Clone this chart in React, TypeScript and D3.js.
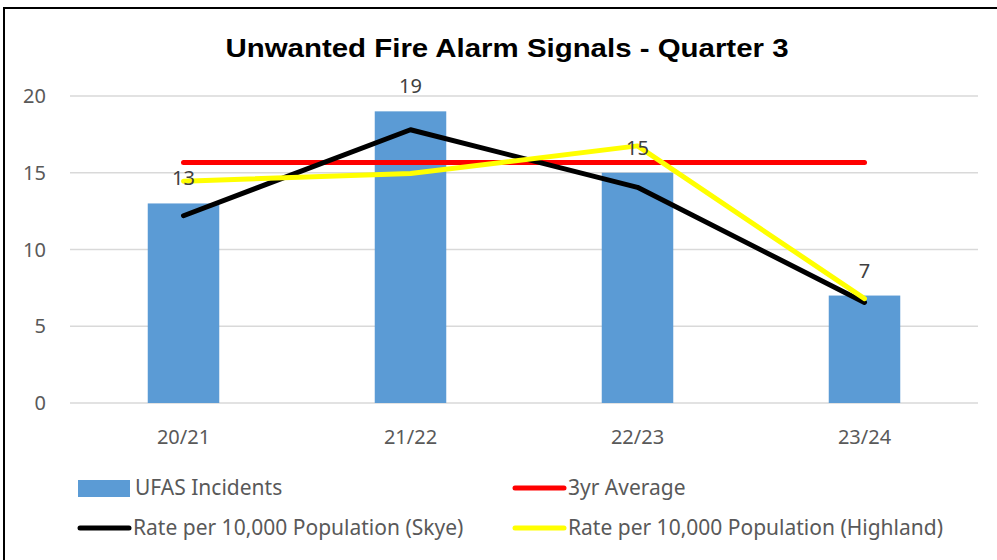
import * as d3 from "d3";

const categories = ["20/21", "21/22", "22/23", "23/24"];
const incidents = [13, 19, 15, 7];
const threeYrAvg = [15.67, 15.67, 15.67, 15.67];
const rateSkye = [12.2, 17.8, 14.05, 6.55];
const rateHighland = [14.45, 14.95, 16.75, 6.8];
const yTicks = [0, 5, 10, 15, 20];

const W = 997;
const H = 560;
const plot = { left: 70, right: 978, top: 96, bottom: 403 };
const labelFont = "'Noto Sans', 'Open Sans', sans-serif";
const tickColor = "#595959";

export default function App() {
  const x = d3.scaleBand().domain(categories).range([plot.left, plot.right]);
  const y = d3.scaleLinear().domain([0, 20]).range([plot.bottom, plot.top]);
  const barW = x.bandwidth() * 0.315;
  const cx = (c: string) => x(c)! + x.bandwidth() / 2;

  const line = d3
    .line<number>()
    .x((_, i) => cx(categories[i]))
    .y((d) => y(d));

  const lineSeries = [
    { name: "3yr Average", values: threeYrAvg, color: "#ff0000" },
    { name: "Rate per 10,000 Population (Skye)", values: rateSkye, color: "#000000" },
    { name: "Rate per 10,000 Population (Highland)", values: rateHighland, color: "#ffff00" },
  ];

  const legend = [
    { name: "UFAS Incidents", kind: "bar", color: "#5b9bd5", x: 78, y: 488 },
    { name: "3yr Average", kind: "line", color: "#ff0000", x: 513, y: 488 },
    { name: "Rate per 10,000 Population (Skye)", kind: "line", color: "#000000", x: 78, y: 528 },
    { name: "Rate per 10,000 Population (Highland)", kind: "line", color: "#ffff00", x: 513, y: 528 },
  ];

  return (
    <svg
      width={W}
      height={H}
      style={{ position: "absolute", left: 0, top: 0, background: "#fff" }}
    >
      <rect x={4} y={8} width={W + 10} height={H + 10} fill="#fff" stroke="#000" strokeWidth={2} />
      <text
        x={507}
        y={57}
        textAnchor="middle"
        fontFamily="'Liberation Sans', Arial, sans-serif"
        fontWeight="bold"
        fontSize={25}
        fill="#000"
        textLength={563}
        lengthAdjust="spacingAndGlyphs"
      >
        Unwanted Fire Alarm Signals - Quarter 3
      </text>

      {yTicks.map((t) => (
        <g key={t}>
          <line x1={plot.left} x2={plot.right} y1={y(t)} y2={y(t)} stroke="#d9d9d9" strokeWidth={1.5} />
          <text
            x={46}
            y={y(t)}
            dy="0.35em"
            textAnchor="end"
            fontFamily={labelFont}
            fontSize={20}
            fill={tickColor}
          >
            {t}
          </text>
        </g>
      ))}

      {categories.map((c, i) => (
        <g key={c}>
          <rect
            x={cx(c) - barW / 2}
            y={y(incidents[i])}
            width={barW}
            height={y(0) - y(incidents[i])}
            fill="#5b9bd5"
          />
          <text
            x={cx(c)}
            y={437}
            dy="0.35em"
            textAnchor="middle"
            fontFamily={labelFont}
            fontSize={20}
            fill={tickColor}
          >
            {c}
          </text>
        </g>
      ))}

      {lineSeries.map((s) => (
        <path
          key={s.name}
          d={line(s.values)!}
          fill="none"
          stroke={s.color}
          strokeWidth={5}
          strokeLinecap="round"
          strokeLinejoin="round"
        />
      ))}

      {categories.map((c, i) => (
        <text
          key={c}
          x={cx(c)}
          y={y(incidents[i]) - 25}
          dy="0.35em"
          textAnchor="middle"
          fontFamily={labelFont}
          fontSize={20}
          fill="#404040"
        >
          {incidents[i]}
        </text>
      ))}

      {legend.map((l) => (
        <g key={l.name}>
          {l.kind === "bar" ? (
            <rect x={l.x} y={l.y - 8} width={52} height={17} fill={l.color} />
          ) : (
            <line
              x1={l.x + 2}
              x2={l.x + 51}
              y1={l.y}
              y2={l.y}
              stroke={l.color}
              strokeWidth={5}
              strokeLinecap="round"
            />
          )}
          <text
            x={l.x + (l.kind === "bar" ? 57 : 55)}
            y={l.y}
            dy="0.35em"
            fontFamily={labelFont}
            fontSize={21}
            fill={tickColor}
          >
            {l.name}
          </text>
        </g>
      ))}
    </svg>
  );
}
